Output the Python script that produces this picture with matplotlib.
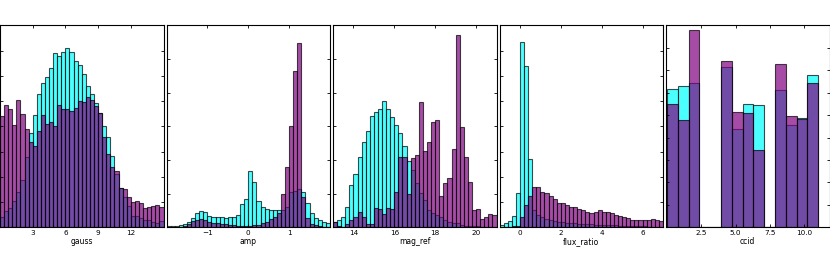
import numpy as np
import matplotlib
matplotlib.use("Agg")
import matplotlib.pyplot as plt

plt.style.use("classic")
plt.rcParams['font.family'] = ['DejaVu Sans']

# ---------------- data ----------------
labels = ["gauss", "amp", "mag_ref", "flux_ratio", "ccid"]

gauss_range = (0.0, 15.0, 40)
gauss_cyan = [0.40, 0.66, 0.75, 1.04, 1.41, 1.87, 2.77, 3.72, 4.45, 5.27,
              5.70, 5.94, 6.30, 6.89, 6.79, 6.96, 7.12, 6.96, 6.60, 6.43,
              6.07, 5.60, 5.28, 4.94, 4.51, 4.01, 3.56, 2.84, 2.11, 1.54,
              1.21, 0.86, 0.46, 0.45, 0.36, 0.29, 0.29, 0.22, 0.18, 0.25]
gauss_purple = [4.41, 4.86, 4.69, 4.04, 5.04, 4.49, 3.89, 3.39, 3.23, 3.82,
                4.45, 4.09, 4.17, 4.01, 4.86, 4.70, 4.69, 4.61, 4.74, 4.99,
                4.98, 5.15, 5.04, 4.81, 4.51, 3.59, 2.90, 2.40, 2.23, 1.54,
                1.50, 1.21, 1.02, 1.04, 0.98, 0.78, 0.79, 0.84, 0.88, 0.79]

amp_range = (-2.0, 2.0, 40)
amp_cyan = [0.03, 0.04, 0.05, 0.07, 0.10, 0.17, 0.27, 0.42, 0.49, 0.45,
            0.34, 0.32, 0.30, 0.30, 0.29, 0.32, 0.32, 0.37, 0.68, 0.85,
            1.66, 1.35, 0.79, 0.59, 0.55, 0.51, 0.50, 0.50, 0.50, 0.61,
            1.04, 1.09, 1.14, 1.04, 0.71, 0.42, 0.27, 0.22, 0.17, 0.14]
amp_purple = [0.00, 0.00, 0.01, 0.02, 0.04, 0.10, 0.20, 0.23, 0.25, 0.22,
              0.17, 0.14, 0.12, 0.10, 0.09, 0.08, 0.06, 0.05, 0.04, 0.04,
              0.05, 0.06, 0.08, 0.12, 0.17, 0.24, 0.32, 0.42, 0.98, 1.79,
              3.01, 4.65, 5.47, 0.91, 0.27, 0.10, 0.06, 0.04, 0.02, 0.01]

mag_range = (13.0, 21.0, 40)
mag_cyan = [0.15, 0.22, 0.32, 0.61, 1.25, 1.58, 2.10, 2.52, 2.87, 3.31,
            3.41, 3.50, 3.75, 3.50, 3.29, 3.04, 2.81, 2.42, 1.98, 1.70,
            1.31, 1.01, 0.81, 0.51, 0.42, 0.37, 0.32, 0.22, 0.17, 0.14,
            0.12, 0.07, 0.05, 0.05, 0.04, 0.03, 0.02, 0.02, 0.02, 0.01]
mag_purple = [0.17, 0.04, 0.02, 0.09, 0.22, 0.32, 0.46, 0.32, 0.09, 0.10,
              0.56, 0.54, 0.40, 0.56, 0.54, 1.04, 2.08, 2.08, 0.99, 2.05,
              2.16, 3.73, 2.28, 2.54, 3.12, 3.19, 0.94, 1.33, 1.46, 2.34,
              5.72, 2.99, 2.10, 1.36, 0.51, 0.55, 0.25, 0.31, 0.40, 0.37]

flux_range = (-1.0, 7.0, 40)
flux_cyan = [0.08, 0.16, 0.26, 0.46, 1.37, 7.32, 6.37, 2.72, 0.69, 0.49,
             0.40, 0.33, 0.29, 0.25, 0.22, 0.21, 0.18, 0.17, 0.16, 0.15,
             0.13, 0.13, 0.12, 0.11, 0.11, 0.09, 0.09, 0.08, 0.08, 0.07,
             0.07, 0.05, 0.05, 0.04, 0.04, 0.04, 0.03, 0.03, 0.03, 0.03]
flux_purple = [0.01, 0.01, 0.03, 0.04, 0.05, 0.42, 0.89, 1.25, 1.59, 1.59,
               1.41, 1.35, 1.22, 1.11, 0.98, 0.98, 0.89, 0.79, 0.82, 0.71,
               0.69, 0.59, 0.55, 0.62, 0.69, 0.62, 0.62, 0.58, 0.48, 0.45,
               0.42, 0.36, 0.29, 0.29, 0.29, 0.28, 0.30, 0.32, 0.29, 0.26]

ccid_range = (0.0, 11.0, 14)
ccid_cyan = [6.17, 6.29, 6.44, 0, 0, 7.14, 4.38, 5.50, 5.45, 0, 6.10, 4.56, 4.87, 6.80]
ccid_purple = [5.51, 4.80, 8.78, 0, 0, 7.41, 5.14, 5.10, 3.46, 0, 7.27, 4.98, 4.84, 6.44]

ranges = [gauss_range, amp_range, mag_range, flux_range, ccid_range]
cyans = [gauss_cyan, amp_cyan, mag_cyan, flux_cyan, ccid_cyan]
purples = [gauss_purple, amp_purple, mag_purple, flux_purple, ccid_purple]

xlims = [(0, 15), (-2, 2), (13, 21), (-1, 7), (-0.07, 11.83)]
xticks = [[3, 6, 9, 12], [-1, 0, 1], [14, 16, 18, 20], [0, 2, 4, 6], [2.5, 5.0, 7.5, 10.0]]
xticklabels = [["3", "6", "9", "12"], ["\u22121", "0", "1"], ["14", "16", "18", "20"],
               ["0", "2", "4", "6"], ["2.5", "5.0", "7.5", "10.0"]]
ytops = [8, 6, 6, 8, 9]

# ---------------- figure ----------------
W, H = 830, 260
fig = plt.figure(figsize=(W / 100, H / 100), dpi=100, facecolor="white")

ax_w = 163.5
step = 166.5
bottom_px = 227.3
top_px = 25.3

for i in range(5):
    left = (0 + step * i) / W
    ax = fig.add_axes([left, 1 - bottom_px / H, ax_w / W, (bottom_px - top_px) / H])
    lo, hi, n = ranges[i]
    edges = np.linspace(lo, hi, n + 1)
    centers = 0.5 * (edges[:-1] + edges[1:])
    ax.hist(centers, bins=edges, weights=cyans[i], color="cyan", alpha=0.7,
            edgecolor="black", linewidth=0.8)
    ax.hist(centers, bins=edges, weights=purples[i], color="purple", alpha=0.7,
            edgecolor="black", linewidth=0.8)
    ax.set_xlim(*xlims[i])
    ax.set_ylim(0, ytops[i])
    ax.set_xticks(xticks[i])
    ax.set_xticklabels(xticklabels[i])
    ax.set_yticks(np.arange(1, ytops[i]))
    ax.set_yticklabels([])
    ax.tick_params(axis="both", which="major", length=2.5, width=0.6,
                   labelsize=5.2, pad=2, direction="in", top=True, right=True)
    ax.set_xlabel(labels[i], fontsize=5.5, labelpad=0.5)
    for s in ax.spines.values():
        s.set_linewidth(0.8)

fig.savefig("out.png", dpi=100, facecolor="white")
